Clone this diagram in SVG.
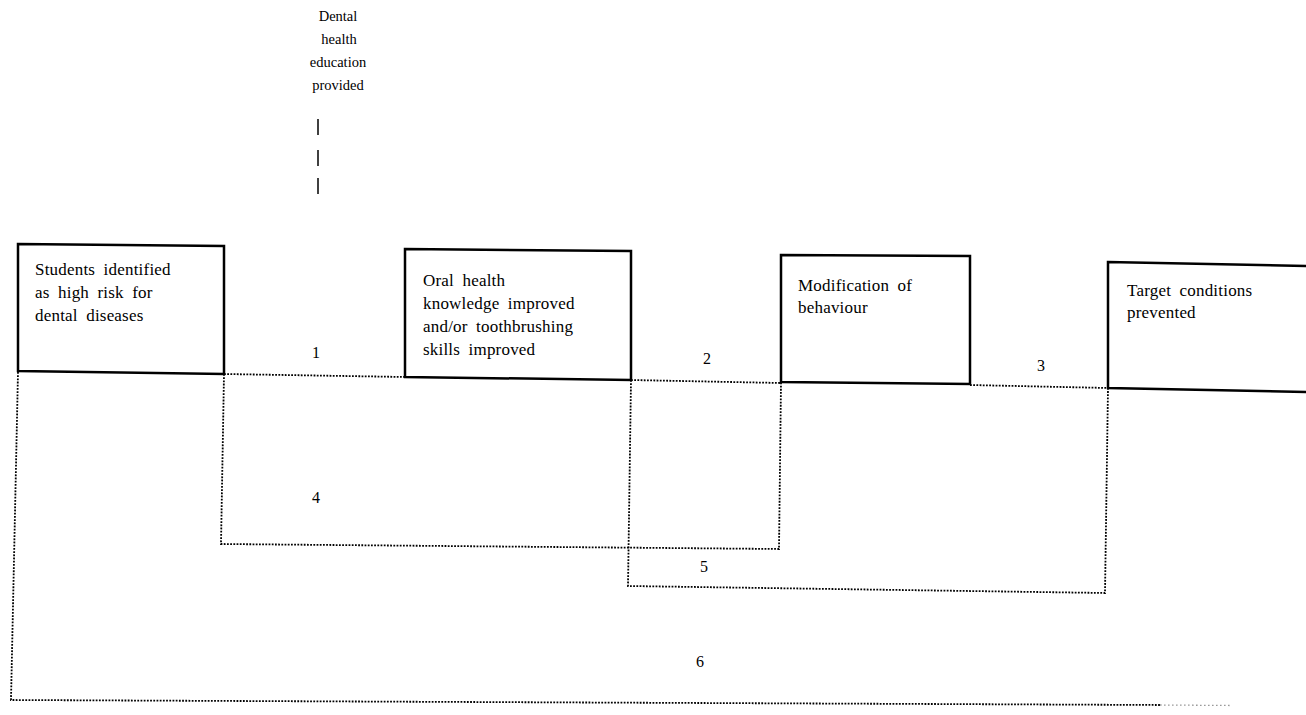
<svg xmlns="http://www.w3.org/2000/svg" width="1306" height="715" viewBox="0 0 1306 715">
  <style>
    .box { fill: #ffffff; stroke: #000; stroke-width: 2.5; stroke-linejoin: miter; }
    .lbl { font-family: "Liberation Serif", "Times New Roman", serif; font-size: 17px; fill: #000; word-spacing: 4px; letter-spacing: 0.2px; }
    .top { font-family: "Liberation Serif", "Times New Roman", serif; font-size: 14.5px; fill: #000; text-anchor: middle; }
    .num { font-family: "Liberation Serif", "Times New Roman", serif; font-size: 16px; fill: #000; text-anchor: middle; }
    .dot { fill: none; stroke: #000; stroke-width: 1.8; stroke-dasharray: 1.8 1.4; }
    .dotfade { fill: none; stroke: #9a9a9a; stroke-width: 1.3; stroke-dasharray: 1.6 2.4; }
  </style>

  <g id="input-label">
    <text class="top" x="338" y="21">Dental</text>
    <text class="top" x="339" y="44">health</text>
    <text class="top" x="338" y="67">education</text>
    <text class="top" x="338" y="90">provided</text>
    <g stroke="#000" stroke-width="1.5">
      <line x1="318" y1="119" x2="318" y2="135"/>
      <line x1="318" y1="150" x2="318" y2="166"/>
      <line x1="318" y1="178" x2="318" y2="194"/>
    </g>
  </g>

  <g id="connectors">
    <path class="dot" d="M224,374 L405,377"/>
    <path class="dot" d="M631,380 L781,383"/>
    <path class="dot" d="M970,385 L1108,388"/>
    <path class="dot" d="M224,374 L221,544 L779,549 L781,383"/>
    <path class="dot" d="M631,380 L628,586 L1105,593 L1108,388"/>
    <path class="dot" d="M18,372 L11,700 L1160,705"/>
    <path class="dotfade" d="M1160,705 L1232,705.5"/>
    <text class="num" x="316" y="358">1</text>
    <text class="num" x="707" y="364">2</text>
    <text class="num" x="1041" y="371">3</text>
    <text class="num" x="316" y="503">4</text>
    <text class="num" x="704" y="572">5</text>
    <text class="num" x="700" y="667">6</text>
  </g>

  <g id="node-students">
    <path class="box" d="M18,244 L224,246 L224,374 L18,371 Z"/>
    <text class="lbl" x="35" y="275">Students identified</text>
    <text class="lbl" x="35" y="298">as high risk for</text>
    <text class="lbl" x="35" y="321">dental diseases</text>
  </g>

  <g id="node-knowledge">
    <path class="box" d="M405,249 L631,251 L631,380 L405,377 Z"/>
    <text class="lbl" x="423" y="286">Oral health</text>
    <text class="lbl" x="423" y="309">knowledge improved</text>
    <text class="lbl" x="423" y="332">and/or toothbrushing</text>
    <text class="lbl" x="423" y="355">skills improved</text>
  </g>

  <g id="node-behaviour">
    <path class="box" d="M781,255 L970,256 L970,384 L781,382 Z"/>
    <text class="lbl" x="798" y="291">Modification of</text>
    <text class="lbl" x="798" y="313">behaviour</text>
  </g>

  <g id="node-target">
    <path class="box" d="M1108,262 L1310,266 L1310,392 L1108,388 Z"/>
    <text class="lbl" x="1127" y="296">Target conditions</text>
    <text class="lbl" x="1127" y="318">prevented</text>
  </g>
</svg>
